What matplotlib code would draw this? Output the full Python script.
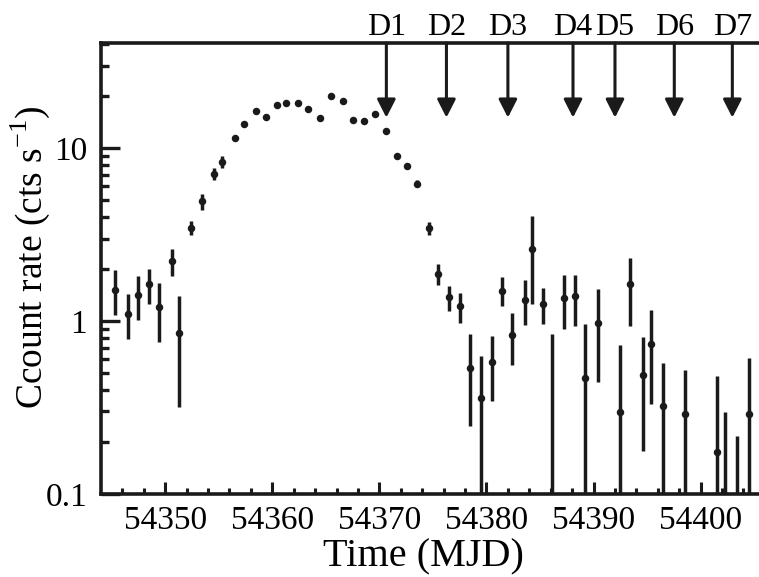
import matplotlib
matplotlib.use("Agg")
import matplotlib.pyplot as plt
import matplotlib.transforms as mtransforms

plt.rcParams['font.family'] = ['Liberation Serif', 'DejaVu Serif']
plt.rcParams['mathtext.fontset'] = 'custom'
plt.rcParams['mathtext.rm'] = 'Liberation Serif'

# ---- data ----
mjd = [54345.35, 54346.5, 54347.46, 54348.49, 54349.37, 54350.63, 54351.29,
       54352.45, 54353.44, 54354.56, 54355.28, 54356.55, 54357.33, 54358.45,
       54359.45, 54360.48, 54361.3, 54362.37, 54363.33, 54364.49, 54365.48,
       54366.6, 54367.53, 54368.53, 54369.63, 54370.59, 54371.62, 54372.58,
       54373.55, 54374.6, 54375.47, 54376.5, 54377.53, 54378.5, 54379.49,
       54380.51, 54381.48, 54382.38, 54383.57, 54384.28, 54385.27, 54386.12,
       54387.26, 54388.3, 54389.23, 54390.45, 54392.44, 54393.37, 54394.62,
       54395.4, 54396.5, 54398.57, 54401.52, 54402.3, 54403.38, 54404.48]
rate = [1.52, 1.10, 1.41, 1.63, 1.20, 2.21, 0.85,
        3.47, 4.92, 7.05, 8.3, 11.4, 13.8, 16.4,
        15.1, 17.7, 18.1, 18.1, 16.9, 15.0, 20.0,
        18.6, 14.5, 14.4, 15.7, 12.5, 9.04, 7.87,
        6.22, 3.45, 1.88, 1.38, 1.22, 0.535, 0.361,
        0.577, 1.50, 0.834, 1.33, 2.62, 1.26, 0.06,
        1.365, 1.39, 0.469, 0.98, 0.298, 1.63, 0.486,
        0.74, 0.323, 0.292, 0.175, 0.06, 0.06, 0.291]
rate_lo = [1.08, 0.79, 1.01, 1.26, 0.76, 1.82, 0.32,
           3.13, 4.40, 6.57, 7.71, 11.0, 13.4, 16.0,
           14.7, 17.3, 17.7, 17.7, 16.5, 14.6, 19.5,
           18.1, 14.1, 14.0, 15.3, 12.2, 8.8, 7.6,
           5.95, 3.13, 1.61, 1.15, 0.97, 0.246, 0.01,
           0.345, 1.22, 0.555, 0.953, 1.26, 0.966, 0.01,
           0.895, 0.93, 0.01, 0.444, 0.01, 0.93, 0.177,
           0.333, 0.01, 0.01, 0.01, 0.01, 0.01, 0.01]
rate_hi = [1.96, 1.43, 1.82, 2.01, 1.66, 2.62, 1.39,
           3.78, 5.45, 7.66, 8.95, 11.8, 14.2, 16.8,
           15.5, 18.1, 18.5, 18.5, 17.3, 15.4, 20.5,
           19.1, 14.9, 14.8, 16.1, 12.8, 9.3, 8.15,
           6.5, 3.73, 2.15, 1.59, 1.45, 0.838, 0.625,
           0.816, 1.80, 1.12, 1.72, 4.07, 1.56, 0.838,
           1.84, 1.85, 0.957, 1.53, 0.724, 2.32, 0.809,
           1.16, 0.572, 0.519, 0.481, 0.298, 0.216, 0.611]

dip_labels = ['D1', 'D2', 'D3', 'D4', 'D5', 'D6', 'D7']
dip_mjd = [54370.65, 54376.26, 54382.0, 54388.08, 54392.0, 54397.54, 54402.96]
arrow_tip = 15.0

xticks = [54350, 54360, 54370, 54380, 54390, 54400]
yticks = [0.1, 1, 10]
ytick_labels = ['0.1', '1', '10']

# ---- figure ----
W, H = 759, 577
fig = plt.figure(figsize=(W / 100, H / 100), dpi=100)
left, right, top, bottom = 101, 759, 43, 494
ax = fig.add_axes([left / W, 1 - bottom / H, (right - left) / W, (bottom - top) / H])

err_lo = [r - l for r, l in zip(rate, rate_lo)]
err_hi = [h - r for r, h in zip(rate, rate_hi)]
ax.errorbar(mjd, rate, yerr=[err_lo, err_hi], fmt='o', color='#1a1a1a',
            ms=5.4, elinewidth=2.5, capsize=0, mew=0, zorder=3)

ax.set_yscale('log')
ax.set_xlim(54344.0, 54405.45)
ax.set_ylim(0.1, 40.5)

ax.set_xticks(xticks)
ax.set_xticklabels([str(t) for t in xticks])
ax.set_xticks(list(range(54346, 54406, 2)), minor=True)
ax.set_yticks(yticks)
ax.set_yticklabels(ytick_labels)
ax.yaxis.set_minor_locator(matplotlib.ticker.LogLocator(base=10, subs=range(2, 10)))
ax.yaxis.set_minor_formatter(matplotlib.ticker.NullFormatter())

for s in ['left', 'top', 'bottom']:
    ax.spines[s].set_linewidth(2.6)
    ax.spines[s].set_color('#1a1a1a')
ax.spines['right'].set_visible(False)

ax.tick_params(axis='both', which='both', direction='in', color='#1a1a1a',
               top=False, right=False, labelsize=24)
ax.tick_params(axis='y', which='major', length=14, width=2.4, pad=10)
ax.tick_params(axis='y', which='minor', length=6, width=2.4)
ax.tick_params(axis='x', which='major', length=9, width=2.2, pad=8)
ax.tick_params(axis='x', which='minor', length=4.5, width=2.2)

ax.set_xlabel('Time (MJD)', fontsize=29)
ax.xaxis.set_label_coords((423 - left) / (right - left), -(577 - 2 - bottom) / (bottom - top))
ax.xaxis.label.set_va('bottom')
ax.set_ylabel('Ccount rate (cts s$^{\\mathregular{-1}}$)', fontsize=27)
ax.yaxis.set_label_coords(-(left - 52) / (right - left), (bottom - 257) / (bottom - top))

trans = mtransforms.blended_transform_factory(ax.transData, ax.transAxes)
for lab, x in zip(dip_labels, dip_mjd):
    ax.annotate('', xy=(x, arrow_tip), xycoords='data',
                xytext=(x, 1.0), textcoords=trans,
                arrowprops=dict(arrowstyle='-|>,head_length=0.55,head_width=0.28',
                                lw=2.2, color='#1a1a1a', shrinkA=0, shrinkB=0,
                                mutation_scale=20))
    ax.text(x, 1.0 + 8 / (bottom - top), lab, transform=trans, ha='center',
            va='baseline', fontsize=23, clip_on=False)

fig.savefig('out.png', dpi=100)
